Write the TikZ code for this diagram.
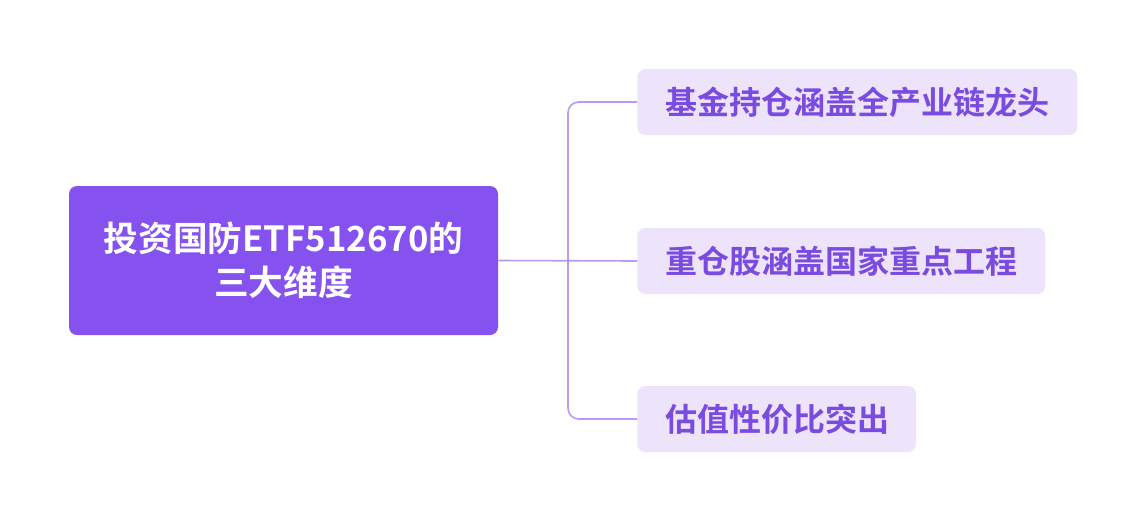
\documentclass[tikz,border=0pt]{standalone}
\usepackage{fontspec}
\newfontfamily\cjk{Noto Sans CJK SC Bold}
\definecolor{rootfill}{HTML}{8552F0}
\definecolor{leaffill}{HTML}{EDE3FB}
\definecolor{leaftext}{HTML}{7A4BE0}
\definecolor{linkcol}{HTML}{B89AF5}
\tikzset{
  rootbox/.style={fill=rootfill, text=white, rounded corners=6pt, align=center,
    minimum width=321.75pt, minimum height=111.75pt, font=\cjk\fontsize{26}{33}\selectfont},
  leafbox/.style={fill=leaffill, text=leaftext, rounded corners=6pt, anchor=west, align=left,
    minimum height=49.5pt, inner xsep=21pt, font=\cjk\fontsize{24}{28}\selectfont},
  link/.style={draw=linkcol, line width=1.2pt, rounded corners=8pt}
}
\begin{document}
\begin{tikzpicture}[x=0.75pt,y=-0.75pt]
  \useasboundingbox (0,0) rectangle (1147,522);
  \node[rootbox] (root) at (283.5,260.5) {投资国防ETF512670的\\三大维度};

  \node[leafbox, text width=288pt] (fund) at (637,102) {基金持仓涵盖全产业链龙头};
  \node[leafbox, text width=264pt] (proj) at (637,261) {重仓股涵盖国家重点工程};
  \node[leafbox, text width=167pt] (value) at (637,419) {估值性价比突出};

  \coordinate (trunk) at (568,261);
  \draw[link] (root.east) -- (proj.west);
  \draw[link] (trunk) |- (fund.west);
  \draw[link] (trunk) |- (value.west);
\end{tikzpicture}
\end{document}
